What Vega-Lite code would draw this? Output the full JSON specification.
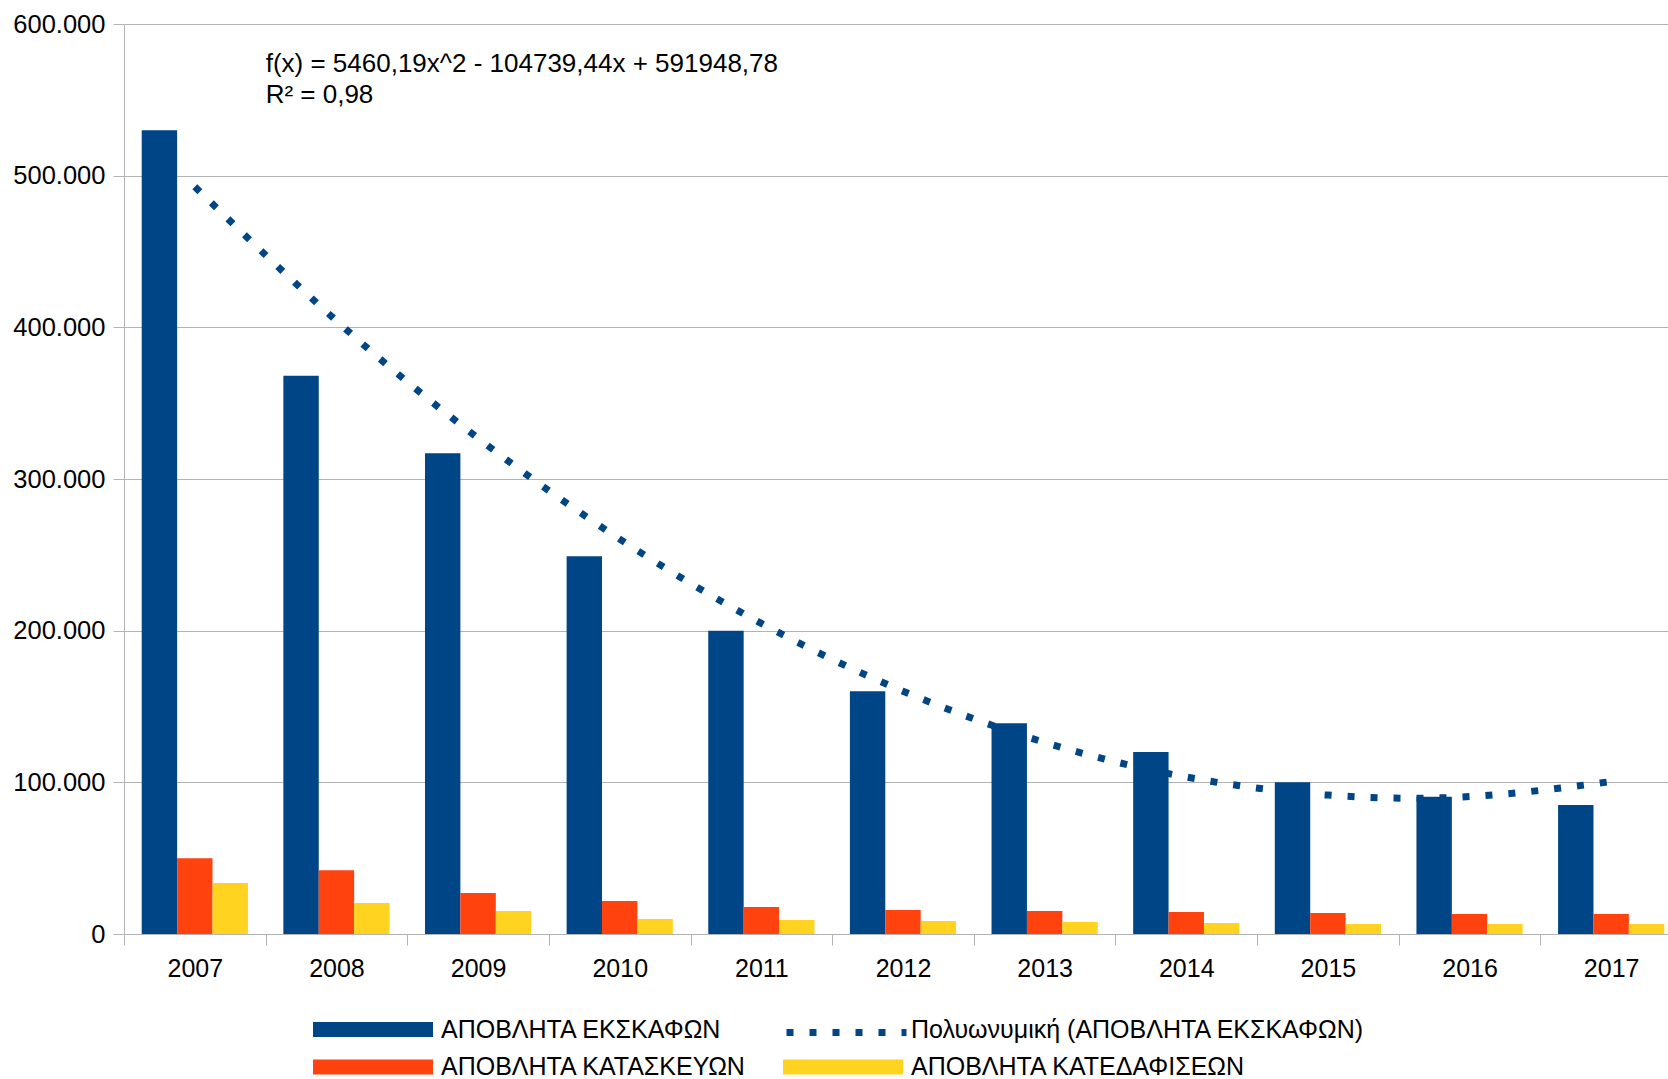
{
  "$schema": "https://vega.github.io/schema/vega-lite/v6.json",
  "autosize": {"type": "none"},
  "padding": {"left": 124, "top": 24, "right": -14, "bottom": 145},
  "width": 1558,
  "height": 910,
  "background": "white",
  "config": {"font": "Liberation Sans", "view": {"stroke": null}},
  "datasets": {
    "bars": [
      {"year": "2007", "series": "ΑΠΟΒΛΗΤΑ ΕΚΣΚΑΦΩΝ", "value": 530000},
      {"year": "2008", "series": "ΑΠΟΒΛΗΤΑ ΕΚΣΚΑΦΩΝ", "value": 368000},
      {"year": "2009", "series": "ΑΠΟΒΛΗΤΑ ΕΚΣΚΑΦΩΝ", "value": 317000},
      {"year": "2010", "series": "ΑΠΟΒΛΗΤΑ ΕΚΣΚΑΦΩΝ", "value": 249000},
      {"year": "2011", "series": "ΑΠΟΒΛΗΤΑ ΕΚΣΚΑΦΩΝ", "value": 200000},
      {"year": "2012", "series": "ΑΠΟΒΛΗΤΑ ΕΚΣΚΑΦΩΝ", "value": 160000},
      {"year": "2013", "series": "ΑΠΟΒΛΗΤΑ ΕΚΣΚΑΦΩΝ", "value": 139000},
      {"year": "2014", "series": "ΑΠΟΒΛΗΤΑ ΕΚΣΚΑΦΩΝ", "value": 120000},
      {"year": "2015", "series": "ΑΠΟΒΛΗΤΑ ΕΚΣΚΑΦΩΝ", "value": 100000},
      {"year": "2016", "series": "ΑΠΟΒΛΗΤΑ ΕΚΣΚΑΦΩΝ", "value": 90500},
      {"year": "2017", "series": "ΑΠΟΒΛΗΤΑ ΕΚΣΚΑΦΩΝ", "value": 85000},
      {"year": "2007", "series": "ΑΠΟΒΛΗΤΑ ΚΑΤΑΣΚΕΥΩΝ", "value": 50000},
      {"year": "2008", "series": "ΑΠΟΒΛΗΤΑ ΚΑΤΑΣΚΕΥΩΝ", "value": 42000},
      {"year": "2009", "series": "ΑΠΟΒΛΗΤΑ ΚΑΤΑΣΚΕΥΩΝ", "value": 27000},
      {"year": "2010", "series": "ΑΠΟΒΛΗΤΑ ΚΑΤΑΣΚΕΥΩΝ", "value": 21700},
      {"year": "2011", "series": "ΑΠΟΒΛΗΤΑ ΚΑΤΑΣΚΕΥΩΝ", "value": 17800},
      {"year": "2012", "series": "ΑΠΟΒΛΗΤΑ ΚΑΤΑΣΚΕΥΩΝ", "value": 15800},
      {"year": "2013", "series": "ΑΠΟΒΛΗΤΑ ΚΑΤΑΣΚΕΥΩΝ", "value": 15100},
      {"year": "2014", "series": "ΑΠΟΒΛΗΤΑ ΚΑΤΑΣΚΕΥΩΝ", "value": 14500},
      {"year": "2015", "series": "ΑΠΟΒΛΗΤΑ ΚΑΤΑΣΚΕΥΩΝ", "value": 13800},
      {"year": "2016", "series": "ΑΠΟΒΛΗΤΑ ΚΑΤΑΣΚΕΥΩΝ", "value": 13200},
      {"year": "2017", "series": "ΑΠΟΒΛΗΤΑ ΚΑΤΑΣΚΕΥΩΝ", "value": 13200},
      {"year": "2007", "series": "ΑΠΟΒΛΗΤΑ ΚΑΤΕΔΑΦΙΣΕΩΝ", "value": 33600},
      {"year": "2008", "series": "ΑΠΟΒΛΗΤΑ ΚΑΤΕΔΑΦΙΣΕΩΝ", "value": 20400},
      {"year": "2009", "series": "ΑΠΟΒΛΗΤΑ ΚΑΤΕΔΑΦΙΣΕΩΝ", "value": 15100},
      {"year": "2010", "series": "ΑΠΟΒΛΗΤΑ ΚΑΤΕΔΑΦΙΣΕΩΝ", "value": 9900},
      {"year": "2011", "series": "ΑΠΟΒΛΗΤΑ ΚΑΤΕΔΑΦΙΣΕΩΝ", "value": 9200},
      {"year": "2012", "series": "ΑΠΟΒΛΗΤΑ ΚΑΤΕΔΑΦΙΣΕΩΝ", "value": 8600},
      {"year": "2013", "series": "ΑΠΟΒΛΗΤΑ ΚΑΤΕΔΑΦΙΣΕΩΝ", "value": 7900},
      {"year": "2014", "series": "ΑΠΟΒΛΗΤΑ ΚΑΤΕΔΑΦΙΣΕΩΝ", "value": 7300},
      {"year": "2015", "series": "ΑΠΟΒΛΗΤΑ ΚΑΤΕΔΑΦΙΣΕΩΝ", "value": 6600},
      {"year": "2016", "series": "ΑΠΟΒΛΗΤΑ ΚΑΤΕΔΑΦΙΣΕΩΝ", "value": 6600},
      {"year": "2017", "series": "ΑΠΟΒΛΗΤΑ ΚΑΤΕΔΑΦΙΣΕΩΝ", "value": 6600}
    ],
    "trend": [
      {"year": "2007", "trend_label": "Πολυωνυμική (ΑΠΟΒΛΗΤΑ ΕΚΣΚΑΦΩΝ)", "value": 492670},
      {"year": "2008", "trend_label": "Πολυωνυμική (ΑΠΟΒΛΗΤΑ ΕΚΣΚΑΦΩΝ)", "value": 404310},
      {"year": "2009", "trend_label": "Πολυωνυμική (ΑΠΟΒΛΗΤΑ ΕΚΣΚΑΦΩΝ)", "value": 326870},
      {"year": "2010", "trend_label": "Πολυωνυμική (ΑΠΟΒΛΗΤΑ ΕΚΣΚΑΦΩΝ)", "value": 260360},
      {"year": "2011", "trend_label": "Πολυωνυμική (ΑΠΟΒΛΗΤΑ ΕΚΣΚΑΦΩΝ)", "value": 204760},
      {"year": "2012", "trend_label": "Πολυωνυμική (ΑΠΟΒΛΗΤΑ ΕΚΣΚΑΦΩΝ)", "value": 160090},
      {"year": "2013", "trend_label": "Πολυωνυμική (ΑΠΟΒΛΗΤΑ ΕΚΣΚΑΦΩΝ)", "value": 126330},
      {"year": "2014", "trend_label": "Πολυωνυμική (ΑΠΟΒΛΗΤΑ ΕΚΣΚΑΦΩΝ)", "value": 103500},
      {"year": "2015", "trend_label": "Πολυωνυμική (ΑΠΟΒΛΗΤΑ ΕΚΣΚΑΦΩΝ)", "value": 91580},
      {"year": "2016", "trend_label": "Πολυωνυμική (ΑΠΟΒΛΗΤΑ ΕΚΣΚΑΦΩΝ)", "value": 90590},
      {"year": "2017", "trend_label": "Πολυωνυμική (ΑΠΟΒΛΗΤΑ ΕΚΣΚΑΦΩΝ)", "value": 100520}
    ]
  },
  "encoding": {
    "x": {
      "field": "year",
      "type": "ordinal",
      "scale": {"type": "band", "paddingInner": 0, "paddingOuter": 0},
      "axis": {
        "title": null,
        "labelAngle": 0,
        "labelFont": "Liberation Sans",
        "labelFontSize": 25,
        "labelColor": "#000000",
        "labelPadding": 11,
        "tickBand": "extent",
        "tickSize": 11,
        "tickColor": "#b3b3b3",
        "domainColor": "#b3b3b3",
        "grid": false
      }
    },
    "y": {
      "field": "value",
      "type": "quantitative",
      "scale": {"domain": [0, 600000], "nice": false},
      "axis": {
        "title": null,
        "values": [0, 100000, 200000, 300000, 400000, 500000, 600000],
        "labelExpr": "replace(format(datum.value, ','), ',', '.')",
        "labelFont": "Liberation Sans",
        "labelFontSize": 25.5,
        "labelColor": "#000000",
        "labelPadding": 8,
        "tickSize": 11,
        "tickColor": "#b3b3b3",
        "domainColor": "#b3b3b3",
        "gridColor": "#b3b3b3",
        "grid": true
      }
    }
  },
  "layer": [
    {
      "data": {"name": "bars"},
      "transform": [{"filter": "datum.series === 'ΑΠΟΒΛΗΤΑ ΕΚΣΚΑΦΩΝ'"}],
      "mark": {"type": "bar", "width": {"band": 0.25}, "xOffset": -35.4},
      "encoding": {
        "color": {
          "field": "series",
          "type": "nominal",
          "scale": {
            "domain": ["ΑΠΟΒΛΗΤΑ ΕΚΣΚΑΦΩΝ", "ΑΠΟΒΛΗΤΑ ΚΑΤΑΣΚΕΥΩΝ", "Πολυωνυμική (ΑΠΟΒΛΗΤΑ ΕΚΣΚΑΦΩΝ)", "ΑΠΟΒΛΗΤΑ ΚΑΤΕΔΑΦΙΣΕΩΝ"],
            "range": ["#004586", "#ff420e", "transparent", "#ffd320"]
          },
          "legend": {
            "title": null,
            "orient": "none",
            "legendX": 174,
            "legendY": 990.5,
            "columns": 2,
            "columnPadding": 21,
            "rowPadding": 9.6,
            "symbolType": "M0,-0.5H8V0.5H0Z",
            "symbolSize": 900,
            "symbolStrokeWidth": 0,
            "labelFont": "Liberation Sans",
            "labelFontSize": 25,
            "labelColor": "#000000",
            "labelOffset": 113,
            "labelLimit": 0
          }
        }
      }
    },
    {
      "data": {"name": "bars"},
      "transform": [{"filter": "datum.series === 'ΑΠΟΒΛΗΤΑ ΚΑΤΑΣΚΕΥΩΝ'"}],
      "mark": {"type": "bar", "width": {"band": 0.25}, "xOffset": 0},
      "encoding": {
        "color": {
          "field": "series",
          "type": "nominal",
          "scale": {
            "domain": ["ΑΠΟΒΛΗΤΑ ΕΚΣΚΑΦΩΝ", "ΑΠΟΒΛΗΤΑ ΚΑΤΑΣΚΕΥΩΝ", "Πολυωνυμική (ΑΠΟΒΛΗΤΑ ΕΚΣΚΑΦΩΝ)", "ΑΠΟΒΛΗΤΑ ΚΑΤΕΔΑΦΙΣΕΩΝ"],
            "range": ["#004586", "#ff420e", "transparent", "#ffd320"]
          },
          "legend": null
        }
      }
    },
    {
      "data": {"name": "bars"},
      "transform": [{"filter": "datum.series === 'ΑΠΟΒΛΗΤΑ ΚΑΤΕΔΑΦΙΣΕΩΝ'"}],
      "mark": {"type": "bar", "width": {"band": 0.25}, "xOffset": 35.4},
      "encoding": {
        "color": {
          "field": "series",
          "type": "nominal",
          "scale": {
            "domain": ["ΑΠΟΒΛΗΤΑ ΕΚΣΚΑΦΩΝ", "ΑΠΟΒΛΗΤΑ ΚΑΤΑΣΚΕΥΩΝ", "Πολυωνυμική (ΑΠΟΒΛΗΤΑ ΕΚΣΚΑΦΩΝ)", "ΑΠΟΒΛΗΤΑ ΚΑΤΕΔΑΦΙΣΕΩΝ"],
            "range": ["#004586", "#ff420e", "transparent", "#ffd320"]
          },
          "legend": null
        }
      }
    },
    {
      "data": {"name": "trend"},
      "mark": {"type": "line", "color": "#004586", "strokeWidth": 7, "strokeCap": "butt", "interpolate": "natural"},
      "encoding": {
        "strokeDash": {
          "field": "trend_label",
          "type": "nominal",
          "scale": {"domain": ["Πολυωνυμική (ΑΠΟΒΛΗΤΑ ΕΚΣΚΑΦΩΝ)"], "range": [[7, 16]]},
          "legend": {
            "title": null,
            "orient": "none",
            "legendX": 659,
            "legendY": 945,
            "symbolType": "stroke",
            "symbolSize": 14400,
            "symbolStrokeColor": "#004586",
            "symbolStrokeWidth": 7,
            "labelOpacity": 0,
            "labelFontSize": 1
          }
        }
      }
    },
    {
      "data": {"values": [{"year": "2008", "value": 582000}]},
      "mark": {"type": "text", "align": "left", "baseline": "top", "dx": -70.8, "font": "Liberation Sans", "fontSize": 26, "lineHeight": 30.5, "color": "#000000"},
      "encoding": {
        "text": {"value": ["f(x) = 5460,19x^2 - 104739,44x + 591948,78", "R² = 0,98"]}
      }
    }
  ]
}
